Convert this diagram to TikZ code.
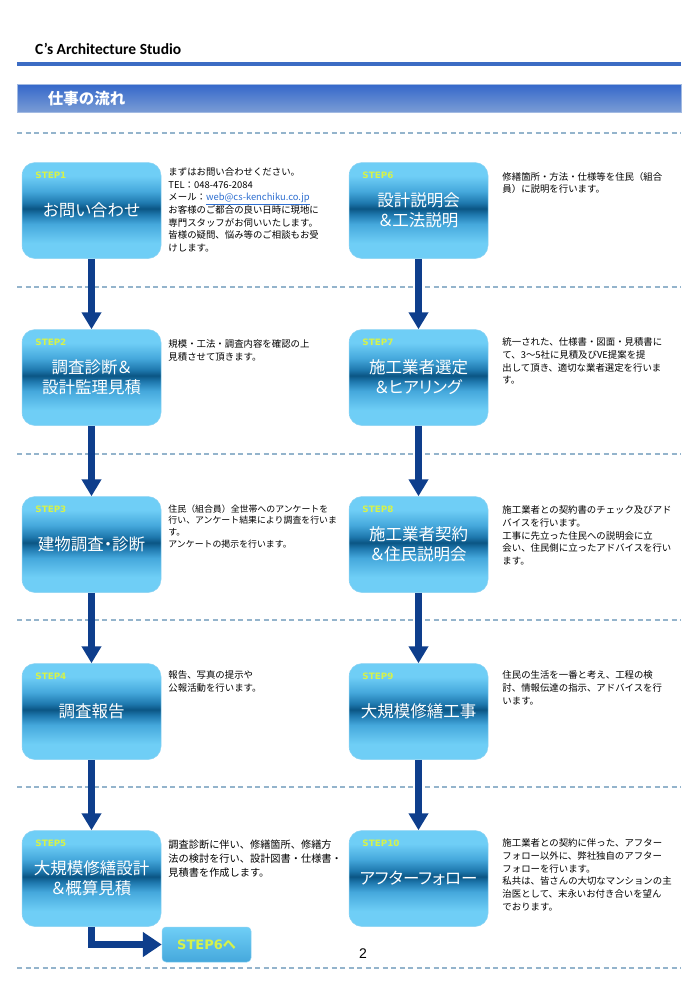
\documentclass[tikz,border=0pt]{standalone}
\usepackage{fontspec}
\usepackage{tikz}
\usetikzlibrary{positioning,arrows.meta}

\setmainfont{Noto Sans CJK JP}
\newfontfamily\jpbox[RawFeature=+palt]{Noto Sans CJK JP}
\newfontfamily\stepfont{DejaVu Sans}
\newfontfamily\headfont{Carlito}
\newfontfamily\numfont{Liberation Sans}

\definecolor{rulecol}{HTML}{3C6CC4}
\definecolor{bartop}{HTML}{3467CA}
\definecolor{barbot}{HTML}{7A9CD5}
\definecolor{sepcol}{HTML}{94B4CC}
\definecolor{flowcol}{HTML}{0E3E8C}
\definecolor{stepcol}{HTML}{D6F24A}
\definecolor{linkcol}{HTML}{2F6FD0}
\definecolor{boxedge}{HTML}{8DD3F3}
\definecolor{boxlight}{HTML}{6FCEF6}
\definecolor{boxlighttwo}{HTML}{45A8DC}
\definecolor{boxmid}{HTML}{1E78AE}
\definecolor{boxdark}{HTML}{0B5584}

\pgfdeclareverticalshading{stepshade}{100bp}{color(0bp)=(boxlight); color(25bp)=(boxlight);
  color(33bp)=(boxlight); color(43bp)=(boxlighttwo); color(48bp)=(boxmid); color(51bp)=(boxdark);
  color(54bp)=(boxmid); color(60bp)=(boxlighttwo); color(68bp)=(boxlight); color(100bp)=(boxlight)}

\begin{document}
\begin{tikzpicture}[x=1pt,y=-1pt,node distance=167pt,on grid,
    stepbox/.style={shading=stepshade,draw=boxedge,line width=0.5pt,rounded corners=13pt,
      minimum width=139pt,minimum height=96pt,inner sep=0pt,align=center,
      text=white,font=\jpbox\fontsize{16.5}{20}\selectfont},
    steplabel/.style={anchor=west,inner sep=0pt,text=stepcol,
      font=\stepfont\bfseries\fontsize{8.8}{8.8}\selectfont},
    desc/.style={anchor=north west,inner sep=0pt,align=left,
      font=\fontsize{9.4}{12.7}\selectfont},
    flow/.style={draw=flowcol,line width=7pt,-{Triangle[width=19pt,length=17pt]}},
    sep/.style={draw=sepcol,line width=1.6pt,dash pattern=on 5pt off 3.5pt},
    nextbox/.style={draw=boxedge,line width=0.5pt,rounded corners=4pt,
      top color=boxlight,middle color=boxlighttwo!80!boxmid,bottom color=boxlighttwo,
      minimum width=89pt,minimum height=35pt,inner sep=0pt,text=stepcol,
      font=\stepfont\bfseries\fontsize{13}{13}\selectfont}]
    \useasboundingbox (0,0) rectangle (700,991);

    % header
    \node[anchor=west,inner sep=0pt,font=\headfont\bfseries\fontsize{15.5}{15.5}\selectfont] (brand)
        at (35,48.5) {C’s Architecture Studio};
    \draw[rulecol,line width=3.5pt] (17,64) -- (681,64);
    \node[top color=bartop,bottom color=barbot,draw=barbot!70!white,line width=0.5pt,
          minimum width=664pt,minimum height=28pt,inner sep=0pt] (bar) at (349,98) {};
    \node[anchor=west,inner sep=0pt,text=white,font=\bfseries\fontsize{15.5}{15.5}\selectfont] (title)
        at ([xshift=31pt,yshift=-1pt]bar.west) {仕事の流れ};

    % separators
    \foreach \y in {133,287,454,620,787,968}
        \draw[sep] (17,\y) -- (681,\y);

    % steps
    \node[stepbox] (step1) at (91.5,210.5) {お問い合わせ};
    \node[stepbox] (step2) [below=of step1] {調査診断＆\\設計監理見積};
    \node[stepbox] (step3) [below=of step2] {建物調査・診断};
    \node[stepbox] (step4) [below=of step3] {調査報告};
    \node[stepbox] (step5) [below=of step4] {大規模修繕設計\\＆概算見積};
    \node[stepbox] (step6) [right=327pt of step1] {設計説明会\\＆工法説明};
    \node[stepbox] (step7) [below=of step6] {施工業者選定\\＆ヒアリング};
    \node[stepbox] (step8) [below=of step7] {施工業者契約\\＆住民説明会};
    \node[stepbox] (step9) [below=of step8] {大規模修繕工事};
    \node[stepbox] (step10) [below=of step9] {アフターフォロー};

    \foreach \n in {1,...,10}
        \node[steplabel] (label\n) at ([xshift=13.5pt,yshift=-13.5pt]step\n.north west) {STEP\n};

    % descriptions
    \node[desc] (text1) at ([xshift=7pt,yshift=-5pt]step1.north east)
        {まずはお問い合わせください。\\TEL：048-476-2084\\
         メール：\textcolor{linkcol}{\underline{web@cs-kenchiku.co.jp}}\\
         お客様のご都合の良い日時に現地に\\専門スタッフがお伺いいたします。\\
         皆様の疑問、悩み等のご相談もお受\\けします。};
    \node[desc] (text2) at ([xshift=7pt,yshift=-10.5pt]step2.north east)
        {規模・工法・調査内容を確認の上\\見積させて頂きます。};
    \node[desc,font=\fontsize{8.9}{11.7}\selectfont] (text3) at ([xshift=7pt,yshift=-8pt]step3.north east)
        {住民（組合員）全世帯へのアンケートを\\行い、アンケート結果により調査を行いま\\す。\\
         アンケートの掲示を行います。};
    \node[desc] (text4) at ([xshift=7pt,yshift=-7pt]step4.north east)
        {報告、写真の提示や\\公報活動を行います。};
    \node[desc,font=\fontsize{10.2}{14}\selectfont] (text5) at ([xshift=7pt,yshift=-9pt]step5.north east)
        {調査診断に伴い、修繕箇所、修繕方\\法の検討を行い、設計図書・仕様書・\\見積書を作成します。};
    \node[desc] (text6) at ([xshift=14pt,yshift=-9.5pt]step6.north east)
        {修繕箇所・方法・仕様等を住民（組合\\員）に説明を行います。};
    \node[desc] (text7) at ([xshift=14pt,yshift=-8.5pt]step7.north east)
        {統一された、仕様書・図面・見積書に\\て、3～5社に見積及びVE提案を提\\
         出して頂き、適切な業者選定を行いま\\す。};
    \node[desc] (text8) at ([xshift=14pt,yshift=-9.5pt]step8.north east)
        {施工業者との契約書のチェック及びアド\\バイスを行います。\\
         工事に先立った住民への説明会に立\\会い、住民側に立ったアドバイスを行い\\ます。};
    \node[desc] (text9) at ([xshift=14pt,yshift=-7.5pt]step9.north east)
        {住民の生活を一番と考え、工程の検\\討、情報伝達の指示、アドバイスを行\\います。};
    \node[desc] (text10) at ([xshift=14pt,yshift=-8.5pt]step10.north east)
        {施工業者との契約に伴った、アフター\\フォロー以外に、弊社独自のアフター\\
         フォローを行います。\\私共は、皆さんの大切なマンションの主\\
         治医として、末永いお付き合いを望ん\\でおります。};

    % flow
    \foreach \a/\b in {step1/step2,step2/step3,step3/step4,step4/step5,
                       step6/step7,step7/step8,step8/step9,step9/step10}
        \draw[flow] (\a) -- (\b);

    \node[nextbox] (tostep6) at (206.5,944.5) {STEP6{\rmfamily\bfseries へ}};
    \draw[flow,line join=miter,-{Triangle[width=24pt,length=19pt]}] (step5) |- (tostep6);

    \node[font=\numfont\fontsize{14}{14}\selectfont,inner sep=0pt] (pagenum) at (363,954) {2};
\end{tikzpicture}
\end{document}
